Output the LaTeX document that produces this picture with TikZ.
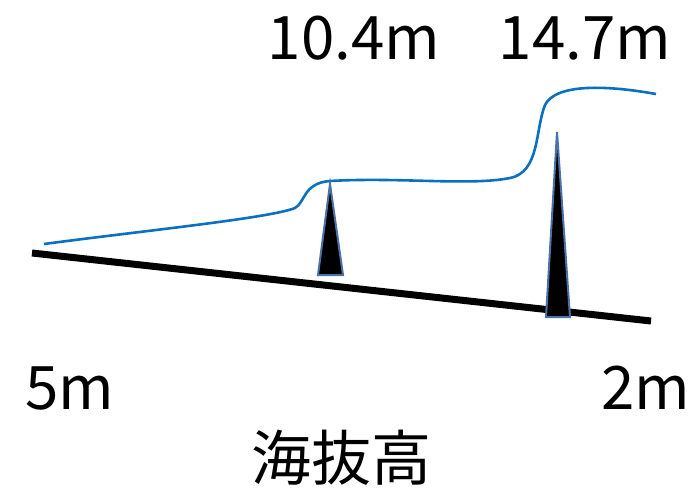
\documentclass[tikz,border=0pt]{standalone}
\usepackage{fontspec}
\setmainfont{Noto Sans CJK JP}
\begin{document}
\begin{tikzpicture}[x=1pt,y=-1pt,
  lbl/.style={inner sep=0pt,font=\fontsize{60}{72}\selectfont},
  spike/.style={fill=black,draw=spikeblue,line width=2pt,line join=miter},
  wave/.style={draw=waveblue,line width=2.6pt}]
\definecolor{spikeblue}{HTML}{4A72A6}
\definecolor{waveblue}{HTML}{0A70C0}
\useasboundingbox (0,0) rectangle (697,493);
\coordinate (g1) at (32,253);
\coordinate (g2) at (651,321);
\draw[line width=7pt] (g1) -- (g2);
\draw[wave] (44,244) .. controls (150,230) and (270,218) .. (295,208)
  .. controls (305,203) and (303,183) .. (330,181)
  .. controls (400,177) and (470,186) .. (510,178)
  .. controls (540,172) and (535,130) .. (545,105)
  .. controls (555,85) and (600,84) .. (656,94);
\coordinate (a1) at (330,184);
\draw[spike] (a1) -- (343,275) -- (318,275) -- cycle;
\coordinate (a2) at (557,132);
\draw[spike] (a2) -- (570,317) -- (546,317) -- cycle;
\node[lbl] (t1) at (354,38) {10.4m};
\node[lbl] (t2) at (585,38) {14.7m};
\node[lbl] (l5) at (70,388) {5m};
\node[lbl] (l2) at (646,388) {2m};
\node[lbl] (hb) at (341,458) {海抜高};
\end{tikzpicture}
\end{document}
